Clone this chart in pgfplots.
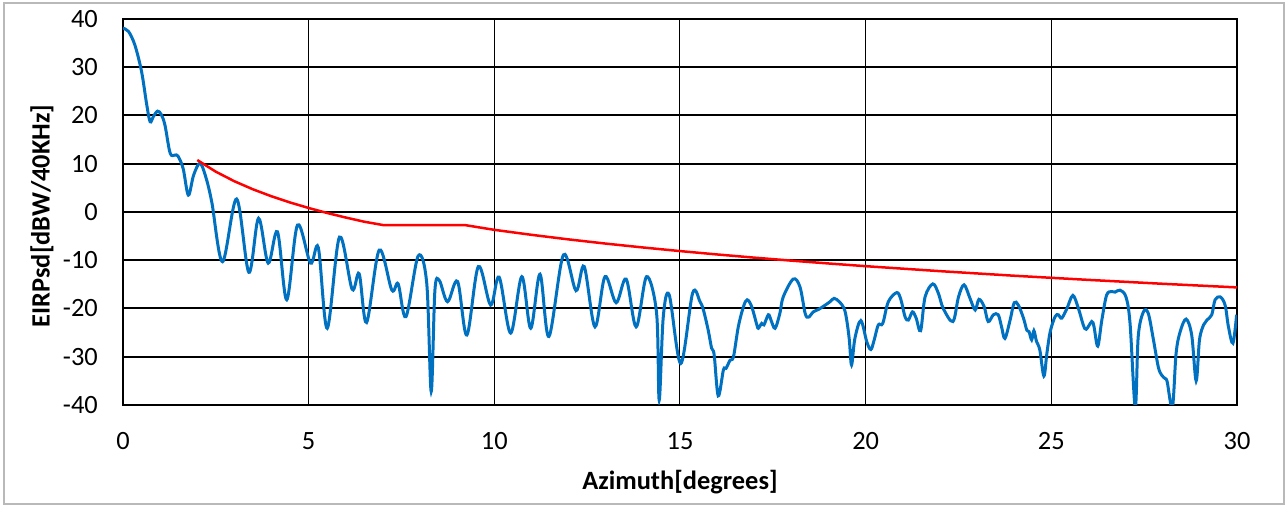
\documentclass[border=0pt]{standalone}
\usepackage{fontspec}
\setmainfont{Carlito}
\usepackage{pgfplots}
\pgfplotsset{compat=1.18}
\definecolor{xlblue}{RGB}{0,112,192}
\begin{document}
\fontsize{13.2}{15}\selectfont
\begin{tikzpicture}
\path (-61.5pt,-50.5pt) rectangle (581.5pt,202.5pt);
\draw[gray!55, line width=0.8pt] (-59.5pt,-49.5pt) rectangle (580.5pt,201pt);
\begin{axis}[
  at={(0,0)}, anchor=south west,
  scale only axis, width=557pt, height=193pt,
  xmin=0, xmax=30, ymin=-40, ymax=40,
  xtick={0,5,...,30}, ytick={-40,-30,...,40},
  major tick length=0pt,
  xmajorgrids, ymajorgrids,
  x grid style={black, line width=0.5pt},
  y grid style={black, line width=1pt},
  axis line style={black, line width=1pt},
  tick label style={font=\fontsize{13.2}{15}\selectfont},
  /pgf/number format/assume math mode=true,
  xticklabel style={yshift=-9pt},
  yticklabel style={xshift=-8pt},
  xlabel={Azimuth[degrees]},
  ylabel={EIRPsd[dBW/40KHz]},
  label style={font=\fontsize{13.2}{15}\selectfont\bfseries},
  xlabel style={at={(axis description cs:0.5,-0.2)}, anchor=center},
  ylabel style={at={(axis description cs:-0.0727,0.49)}, anchor=center},
]
% measured pattern
\addplot[xlblue, line width=1.5pt, smooth, tension=0.55] coordinates {
(0,38.1) (0.15,37.4) (0.32,34.6) (0.5,29.1) (0.64,22.2) (0.73,18.7) (0.82,19.8)
(0.93,20.9) (1.03,20.2) (1.13,18) (1.27,12.2) (1.4,11.8) (1.48,11.6) (1.62,9)
(1.76,3.5) (1.9,7.6) (2.07,10.1) (2.22,7.5) (2.39,2.1) (2.68,-10.3) (3.06,2.7)
(3.39,-12.5) (3.65,-1.3) (3.91,-10.6) (4.16,-4.1) (4.41,-18.2) (4.7,-2.7)
(5.05,-10.6) (5.26,-7.4) (5.5,-24.1) (5.83,-5.2) (6.17,-16) (6.36,-12.8)
(6.56,-22.9) (6.9,-7.9) (7.24,-16.2) (7.41,-14.9) (7.62,-21.7) (7.95,-9.1)
(8.18,-14.8) (8.3,-37.2) (8.4,-16.2) (8.52,-14.2) (8.74,-18.6) (9.01,-14.4)
(9.26,-25.5) (9.57,-11.3) (9.9,-19.3) (10.13,-13.5) (10.44,-25.1) (10.74,-13.4)
(10.98,-24.1) (11.23,-12.9) (11.47,-25.8) (11.86,-8.9) (12.2,-16.3) (12.42,-11.3)
(12.71,-23.8) (12.98,-13.4) (13.28,-18.8) (13.55,-13.9) (13.82,-23.8) (14.1,-13.4)
(14.37,-21) (14.44,-39) (14.55,-21.7) (14.71,-17.2) (15.02,-31.4) (15.34,-16.8)
(15.54,-18.6) (15.63,-20.3) (15.76,-24.5) (15.85,-28.2) (15.92,-29.6) (16.03,-38.1)
(16.17,-32.7) (16.24,-32.4) (16.35,-30.7) (16.44,-30) (16.57,-23.8) (16.71,-19.6)
(16.81,-18.2) (16.93,-19.6) (17.07,-23.4) (17.11,-24.1) (17.2,-23.1) (17.26,-23.4)
(17.38,-21.3) (17.45,-22.4) (17.56,-24.1) (17.69,-21) (17.78,-17.6) (18.05,-13.9)
(18.23,-15.5) (18.37,-21) (18.46,-21.8) (18.59,-20.7) (18.73,-20.2) (18.91,-19.3)
(19.04,-18.6) (19.15,-17.9) (19.29,-18.6) (19.42,-20) (19.49,-22.4) (19.56,-26.5)
(19.62,-31.7) (19.71,-26.2) (19.87,-22.5) (20.03,-26.9) (20.14,-28.5) (20.23,-26.5)
(20.34,-23.4) (20.46,-23.1) (20.61,-18.6) (20.84,-16.7) (20.95,-18.2) (21.06,-21.7)
(21.15,-22.4) (21.26,-20.7) (21.36,-22) (21.48,-24.6) (21.6,-17.6) (21.81,-14.9)
(21.96,-16.9) (22.09,-20) (22.35,-22.7) (22.5,-17.6) (22.65,-15.1) (22.81,-17.9)
(22.95,-20.3) (23.05,-18.1) (23.19,-19.6) (23.3,-22.7) (23.44,-21.3) (23.57,-21.3)
(23.66,-23.8) (23.75,-26.2) (23.89,-22.4) (24,-18.8) (24.11,-19.3) (24.25,-22)
(24.34,-24.5) (24.4,-24.8) (24.47,-26.5) (24.53,-24.6) (24.6,-26.8) (24.69,-28.6)
(24.8,-34) (24.88,-29.3) (24.97,-24.8) (25.1,-21.7) (25.19,-21.3) (25.28,-22)
(25.42,-20) (25.58,-17.3) (25.73,-20) (25.86,-23.4) (25.94,-24.3) (26.09,-22.7)
(26.15,-23.8) (26.25,-27.8) (26.36,-22.4) (26.49,-17.2) (26.63,-16.5) (26.72,-16.6)
(26.85,-16.2) (27.01,-17.6) (27.12,-23.1) (27.26,-40.5) (27.34,-25.8) (27.48,-20.7)
(27.61,-21) (27.75,-26.5) (27.88,-32.1) (27.97,-33.8) (28.06,-34.5) (28.12,-35.2)
(28.26,-40.5) (28.36,-29.3) (28.47,-24.8) (28.63,-22.2) (28.78,-25.5) (28.9,-35)
(28.99,-26.5) (29.1,-23.4) (29.19,-22.4) (29.32,-21.3) (29.41,-18.2) (29.55,-17.6)
(29.68,-19.3) (29.77,-23.8) (29.89,-27.2) (29.99,-21.3)
};
% mask
\addplot[red, line width=1.25pt] coordinates {
(2,10.77) (2.5,8.35) (3,6.37) (3.5,4.70) (4,3.25) (4.5,1.97) (5,0.83)
(5.5,-0.21) (6,-1.15) (6.5,-2.02) (7,-2.7) (9.2,-2.7) (10,-3.7) (11,-4.73)
(12,-5.68) (13,-6.55) (14,-7.35) (15,-8.10) (16,-8.80) (17,-9.46) (18,-10.08)
(19,-10.67) (20,-11.23) (22,-12.26) (24,-13.21) (26,-14.07) (28,-14.88) (30,-15.63)
};
\end{axis}
\end{tikzpicture}
\end{document}
